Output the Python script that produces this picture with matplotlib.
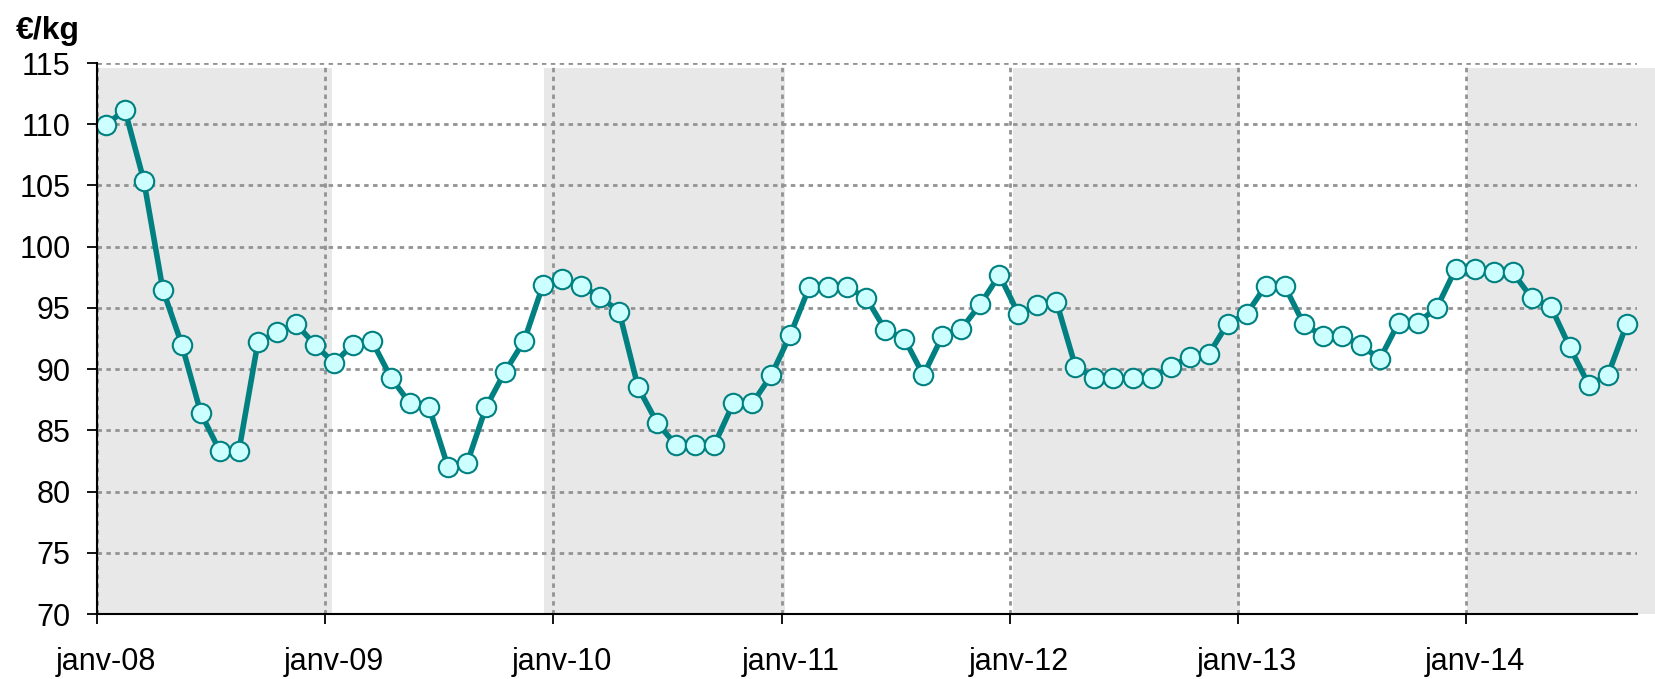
import numpy as np
import matplotlib
matplotlib.use("Agg")
import matplotlib.pyplot as plt

# monthly price, janv-08 .. sept-14 (€/kg)
prices = [
    109.9, 111.2, 105.4, 96.5, 92.0, 86.4, 83.3, 83.3, 92.2, 93.0, 93.7, 92.0,   # 2008
    90.5, 92.0, 92.3, 89.3, 87.2, 86.9, 82.0, 82.3, 86.9, 89.8, 92.3, 96.9,      # 2009
    97.4, 96.8, 95.9, 94.7, 88.5, 85.6, 83.8, 83.8, 83.8, 87.2, 87.2, 89.5,      # 2010
    92.8, 96.7, 96.7, 96.7, 95.8, 93.2, 92.5, 89.5, 92.7, 93.3, 95.3, 97.7,      # 2011
    94.5, 95.2, 95.5, 90.2, 89.3, 89.3, 89.3, 89.3, 90.2, 91.0, 91.2, 93.7,      # 2012
    94.5, 96.8, 96.8, 93.7, 92.7, 92.7, 92.0, 90.8, 93.8, 93.8, 95.0, 98.2,      # 2013
    98.2, 97.9, 97.9, 95.8, 95.1, 91.8, 88.7, 89.5, 93.7,                        # 2014
]
years = [2008, 2009, 2010, 2011, 2012, 2013, 2014]
year_labels = ["janv-%02d" % (y % 100) for y in years]
shaded_years = [2008, 2010, 2012, 2014]

plt.rcParams['font.family'] = ['Liberation Sans', 'DejaVu Sans']

fig = plt.figure(figsize=(16.56, 6.79), dpi=100)
ax = fig.add_axes([0.0586, 0.0957, 0.93, 0.8115])

n = len(prices)
x = np.arange(n) + 0.46

# alternating year bands (extents)
band_spans = {2008: (0.0, 12.35), 2010: (23.5, 36.2), 2012: (48.2, 60.1), 2014: (72.05, 82.0)}
for y in shaded_years:
    a, b = band_spans[y]
    ax.axvspan(a, b, ymin=0, ymax=0.991, color='#e8e8e8', lw=0, zorder=0, clip_on=False)

grid_kw = dict(color='#939393', lw=2.0, dashes=(1.6, 1.6), zorder=1)
for v in range(70, 116, 5):
    ax.axhline(v, **grid_kw)
for i in range(len(years)):
    ax.axvline(12 * i, **grid_kw)

ax.plot(x, prices, color='#008080', lw=4.0, marker='o', ms=14,
        mfc='#ccffff', mec='#008080', mew=1.5, zorder=3, clip_on=False)

ax.set_xlim(0, n)
ax.set_ylim(70, 115)
ax.set_yticks(range(70, 116, 5))
ax.tick_params(axis='y', labelsize=22, length=7, width=1.3, pad=12, direction='out')

ax.set_xticks([12 * i for i in range(len(years))])
ax.set_xticklabels([])
ax.tick_params(axis='x', which='major', length=7, width=1.3, direction='out')
ax.set_xticks([12 * i + 0.46 for i in range(len(years))], minor=True)
ax.set_xticklabels(year_labels, minor=True)
ax.tick_params(axis='x', which='minor', length=0, labelsize=22, pad=24)

for s in ['top', 'right']:
    ax.spines[s].set_visible(False)
for s in ['left', 'bottom']:
    ax.spines[s].set_linewidth(1.5)
    ax.spines[s].set_zorder(4)

fig.text(0.0097, 0.942, '€/kg', fontsize=23, fontweight='bold', va='baseline')

fig.savefig('out.png', dpi=100)
